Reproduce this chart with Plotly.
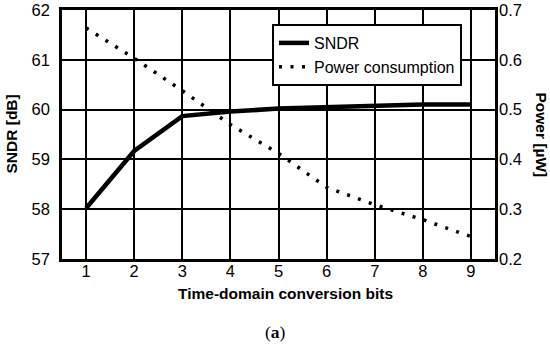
import plotly.graph_objects as go

bits = [1, 2, 3, 4, 5, 6, 7, 8, 9]
sndr = [58.02, 59.17, 59.87, 59.96, 60.02, 60.05, 60.08, 60.10, 60.10]
power = [0.664, 0.603, 0.538, 0.470, 0.412, 0.344, 0.309, 0.279, 0.245]

x_ticks = [1, 2, 3, 4, 5, 6, 7, 8, 9]
y1_ticks = [57, 58, 59, 60, 61, 62]
y2_ticks = [0.2, 0.3, 0.4, 0.5, 0.6, 0.7]

FONT = "Liberation Sans, Arial, sans-serif"
L, R, T, B = 62, 55, 10, 85
W, H = 550, 344
plot_w = W - L - R
plot_h = H - T - B


def px_x(px):
    return (px - L) / plot_w


def px_y(py):
    return 1 - (py - T) / plot_h


fig = go.Figure()
fig.add_trace(go.Scatter(x=bits, y=sndr, name="SNDR", mode="lines",
                         line=dict(color="black", width=4.5)))
fig.add_trace(go.Scatter(x=bits, y=power, name="Power consumption", mode="lines",
                         yaxis="y2",
                         line=dict(color="black", width=3.5, dash="3px,8.5px")))

axis_common = dict(showgrid=True, gridcolor="black", gridwidth=1.5, showline=True,
                   linecolor="black", linewidth=2.5, mirror=True, ticks="",
                   zeroline=False, automargin=False, tickfont=dict(size=16.5))

fig.update_layout(
    width=W, height=H,
    margin=dict(l=L, r=R, t=T, b=B),
    paper_bgcolor="white", plot_bgcolor="white",
    font=dict(family=FONT, color="black", size=16),
    showlegend=True,
    legend=dict(x=px_x(272), y=px_y(24), xanchor="left", yanchor="top",
                bordercolor="black", borderwidth=2, bgcolor="white",
                font=dict(size=16, family=FONT), tracegroupgap=0,
                itemwidth=30),
    xaxis=dict(range=[0.5, 9.5], tickvals=x_ticks, ticklabelstandoff=-5, **axis_common),
    yaxis=dict(range=[57, 62], tickvals=y1_ticks, ticklabelstandoff=6, **axis_common),
    yaxis2=dict(range=[0.2, 0.7], tickvals=y2_ticks, tickformat=".1f",
                overlaying="y", side="right", showgrid=False, showline=False,
                ticks="", zeroline=False, automargin=False, ticklabelstandoff=3,
                tickfont=dict(size=16.5)),
    annotations=[
        dict(text="<b>SNDR [dB]</b>", textangle=-90, x=px_x(11), y=0.5,
             xanchor="center", yanchor="middle",
             xref="paper", yref="paper", showarrow=False,
             font=dict(size=15.5, family=FONT)),
        dict(text="<b>Power [µW]</b>", textangle=90, x=px_x(541), y=0.5,
             xanchor="center", yanchor="middle",
             xref="paper", yref="paper", showarrow=False,
             font=dict(size=15.5, family=FONT)),
        dict(text="<b>Time-domain conversion bits</b>", x=px_x(285), y=px_y(293),
             xanchor="center", yanchor="middle",
             xref="paper", yref="paper", showarrow=False,
             font=dict(size=15.5, family=FONT)),
        dict(text="(<b>a</b>)", x=px_x(275), y=px_y(332), xref="paper", yref="paper",
             xanchor="center", yanchor="middle",
             showarrow=False,
             font=dict(size=17.5, family="Liberation Serif, Times New Roman, serif")),
    ],
)

fig.write_html("out.html", config={"displayModeBar": False},
               post_script="document.body.style.margin='0';")
